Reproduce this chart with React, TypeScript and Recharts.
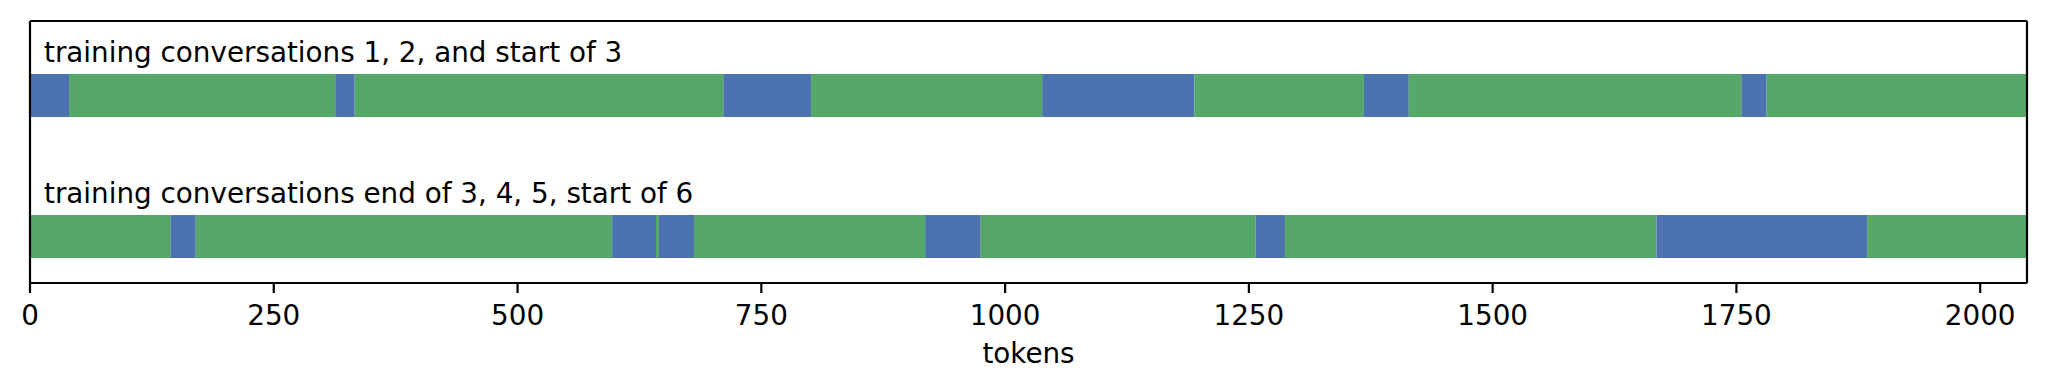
import React from "react";
import { BarChart, Bar, XAxis, YAxis, Cell, LabelList, Label } from "recharts";

const BLUE = "#4c72b0";
const GREEN = "#55a868";
const FONT = "DejaVu Sans";

const rowTitles = [
  "training conversations 1, 2, and start of 3",
  "training conversations end of 3, 4, 5, start of 6",
];

// token positions where the colour switches, one list per row
const row1Bounds = [0, 40, 313, 333, 711, 801, 1038, 1194, 1368, 1414, 1755, 1781, 2048];
const row2Bounds = [0, 144, 170, 597, 642, 645, 681, 918, 975, 1257, 1287, 1668, 1884, 2048];

// u = blue segment, a = green segment
const row1Roles = ["u", "a", "u", "a", "u", "a", "u", "a", "u", "a", "u", "a"];
const row2Roles = ["a", "u", "a", "u", "a", "u", "a", "u", "a", "u", "a", "u", "a"];

const xTicks = [0, 250, 500, 750, 1000, 1250, 1500, 1750, 2000];

const bounds = [row1Bounds, row2Bounds];
const roles = [row1Roles, row2Roles];
const segCount = Math.max(...bounds.map((b) => b.length - 1));

const data = bounds.map((b, r) => {
  const d: any = { row: `row${r + 1}` };
  for (let i = 0; i < b.length - 1; i++) d[`s${i}`] = b[i + 1] - b[i];
  return d;
});

const RowTitle = (props: any) => {
  const vb = props.viewBox || {};
  const x = props.x ?? vb.x;
  const y = props.y ?? vb.y;
  const idx = props.index ?? 0;
  return (
    <text x={x + 14} y={y - 12.5} fontSize={27.8} fill="#000" fontFamily={FONT}>
      {rowTitles[idx]}
    </text>
  );
};

const axisLine = { stroke: "#000", strokeWidth: 2.2 };

export default function App() {
  return (
    <div style={{ position: "absolute", left: 0, top: 0, fontFamily: FONT }}>
      <BarChart
        layout="vertical"
        width={2048}
        height={391}
        data={data}
        margin={{ top: 20, right: 20, left: 29, bottom: 0 }}
      >
        <XAxis
          type="number"
          domain={[0, 2048]}
          ticks={xTicks}
          height={108}
          tickSize={10}
          tickMargin={12}
          axisLine={axisLine}
          tickLine={axisLine}
          tick={{ fill: "#000", fontSize: 27.8, fontFamily: FONT }}
        >
          <Label
            value="tokens"
            position="insideBottom"
            offset={28}
            fill="#000"
            fontSize={27.8}
            fontFamily={FONT}
          />
        </XAxis>
        <XAxis
          xAxisId="top"
          orientation="top"
          type="number"
          domain={[0, 2048]}
          height={1}
          tick={false}
          tickLine={false}
          axisLine={axisLine}
        />
        <YAxis
          type="category"
          dataKey="row"
          width={1}
          tick={false}
          tickLine={false}
          axisLine={axisLine}
          padding={{ top: 4, bottom: -24 }}
        />
        <YAxis
          yAxisId="right"
          orientation="right"
          type="category"
          dataKey="row"
          width={1}
          tick={false}
          tickLine={false}
          axisLine={axisLine}
        />
        {Array.from({ length: segCount }, (_, i) => (
          <Bar key={i} dataKey={`s${i}`} stackId="a" barSize={43} isAnimationActive={false}>
            {data.map((_, r) => (
              <Cell key={r} fill={roles[r][i] === "u" ? BLUE : GREEN} />
            ))}
            {i === 0 && <LabelList dataKey="s0" content={RowTitle} />}
          </Bar>
        ))}
      </BarChart>
    </div>
  );
}
